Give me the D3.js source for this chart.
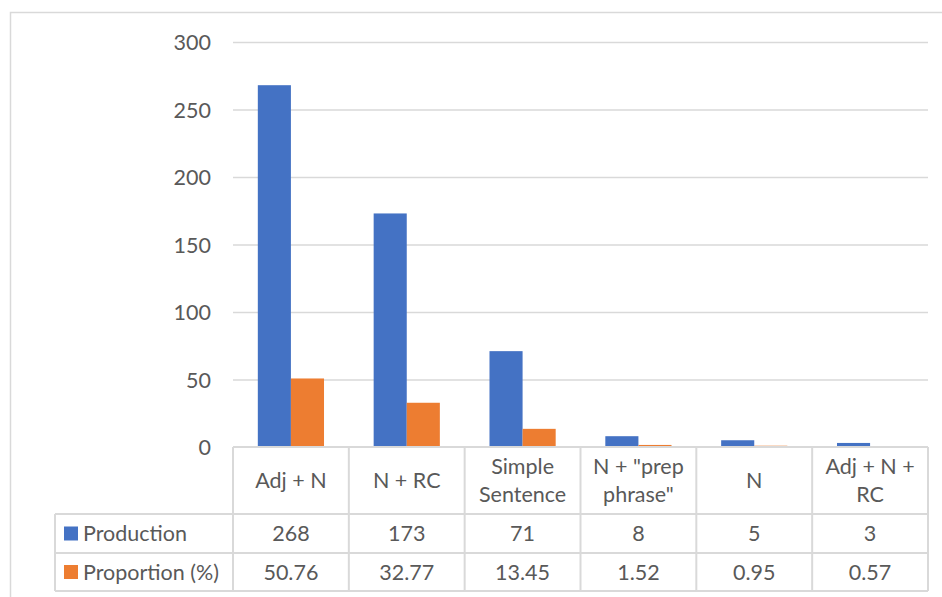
<!DOCTYPE html>
<html>
<head>
<meta charset="utf-8">
<script src="https://cdn.jsdelivr.net/npm/d3@7/dist/d3.min.js"></script>
<style>
  html, body { margin: 0; padding: 0; background: #fff; }
  svg { display: block; }
  text { font-family: Lato, "Open Sans", sans-serif; fill: #595959; }
</style>
</head>
<body>
<svg id="chart" width="942" height="597"></svg>
<script>
// Phrase types and their counts / shares
const categories = [["Adj + N"], ["N + RC"], ["Simple", "Sentence"], ["N + \"prep", "phrase\""], ["N"], ["Adj + N +", "RC"]];
const seriesNames = ["Production", "Proportion (%)"];
const production = [268, 173, 71, 8, 5, 3];
const proportion = [50.76, 32.77, 13.45, 1.52, 0.95, 0.57];
const proportionLabels = ["50.76", "32.77", "13.45", "1.52", "0.95", "0.57"];
const yTicks = [0, 50, 100, 150, 200, 250, 300];

const colors = ["#4472c4", "#ed7d31"];
const gridColor = "#d9d9d9";
const fontSize = 21.5;

const svg = d3.select("#chart");
const W = 942, H = 597;

// outer chart frame
svg.append("rect")
  .attr("x", 10.5).attr("y", 12.5)
  .attr("width", W + 20).attr("height", H + 20)
  .attr("fill", "none").attr("stroke", gridColor).attr("stroke-width", 1.5);

const plot = { left: 233, right: 928, top: 42, bottom: 447 };
const tableLeft = 55;
const rowBottoms = [514, 553, 591];

const y = d3.scaleLinear().domain([0, 300]).range([plot.bottom, plot.top]);
const keys = categories.map((c, i) => i);
const x = d3.scaleBand().domain(keys).range([plot.left, plot.right]).padding(0);

// Excel-style gap width of 150% of a bar
const gapWidth = 1.5;
const barW = x.bandwidth() / (2 + gapWidth);
const x1 = d3.scaleBand().domain([0, 1])
  .range([barW * gapWidth / 2, barW * gapWidth / 2 + 2 * barW]).padding(0);

// gridlines and y tick labels
const yAxis = d3.axisLeft(y).tickValues(yTicks).tickSize(-(plot.right - plot.left)).tickPadding(22);
const gy = svg.append("g").attr("transform", `translate(${plot.left},0)`).call(yAxis);
gy.select(".domain").remove();
gy.selectAll(".tick line").attr("stroke", gridColor).attr("stroke-width", 1.5)
  .filter(d => d === 0).remove();
gy.selectAll(".tick text").attr("font-size", fontSize).attr("fill", "#595959")
  .attr("font-family", "Lato, 'Open Sans', sans-serif").attr("dy", "0.35em");

// bars
const seriesData = [production, proportion];
const groups = svg.append("g");
seriesData.forEach((vals, s) => {
  groups.selectAll(null).data(vals).enter().append("rect")
    .attr("x", (d, i) => x(i) + x1(s))
    .attr("width", x1.bandwidth())
    .attr("y", d => y(d))
    .attr("height", d => y(0) - y(d))
    .attr("fill", colors[s]);
});

// data table grid
const tbl = svg.append("g").attr("stroke", gridColor).attr("stroke-width", 2).attr("fill", "none");
tbl.append("line").attr("x1", plot.left).attr("x2", plot.right).attr("y1", plot.bottom).attr("y2", plot.bottom);
rowBottoms.forEach(yy => {
  tbl.append("line").attr("x1", tableLeft).attr("x2", plot.right).attr("y1", yy).attr("y2", yy);
});
d3.range(categories.length + 1).forEach(i => {
  const xx = i < categories.length ? x(i) : plot.right;
  tbl.append("line").attr("x1", xx).attr("x2", xx).attr("y1", plot.bottom).attr("y2", rowBottoms[2]);
});
tbl.append("line").attr("x1", tableLeft).attr("x2", tableLeft).attr("y1", rowBottoms[0]).attr("y2", rowBottoms[2]);

// category header cells
const lineH = 28;
const headerMid = (plot.bottom + rowBottoms[0]) / 2;
categories.forEach((lines, i) => {
  const cx = x(i) + x.bandwidth() / 2;
  const t = svg.append("text").attr("text-anchor", "middle").attr("font-size", fontSize).attr("x", cx);
  lines.forEach((ln, k) => {
    t.append("tspan").attr("x", cx)
      .attr("y", headerMid + (k - (lines.length - 1) / 2) * lineH)
      .attr("dy", "0.35em").text(ln);
  });
});

// value rows with legend keys
const rowLabels = [production.map(String), proportionLabels];
rowLabels.forEach((labels, s) => {
  const top = rowBottoms[s], bot = rowBottoms[s + 1];
  const mid = (top + bot) / 2;
  svg.append("rect").attr("x", 64).attr("y", mid - 7).attr("width", 14).attr("height", 14).attr("fill", colors[s]);
  svg.append("text").attr("x", 83).attr("y", mid).attr("dy", "0.35em").attr("font-size", fontSize).text(seriesNames[s]);
  labels.forEach((lab, i) => {
    svg.append("text").attr("x", x(i) + x.bandwidth() / 2).attr("y", mid).attr("dy", "0.35em")
      .attr("text-anchor", "middle").attr("font-size", fontSize).text(lab);
  });
});
</script>
</body>
</html>
